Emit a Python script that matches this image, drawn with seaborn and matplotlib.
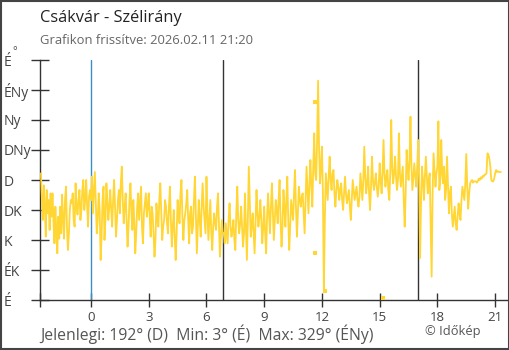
import numpy as np
import pandas as pd
import matplotlib
matplotlib.use("Agg")
import matplotlib.pyplot as plt
import seaborn as sns

# ---- data (hours relative to midnight, wind direction in degrees) ----
t_start = -2.6
t_step = 0.05
deg_pre = [190, 150, 120, 172, 140, 95, 165, 130, 150, 105, 160, 125,
           160, 118, 85, 140, 100, 70, 125, 92, 140, 100, 158, 120, 92, 150, 170, 110, 75, 98, 135, 150,
           145, 160, 120, 110, 175, 140, 128, 150, 165, 120, 135, 165, 180, 135, 150, 180, 140, 110, 155, 165]
deg_night = [
    150, 185, 130, 160, 192, 145, 100, 120, 160, 135, 60, 95, 150, 170, 90, 120, 175, 150, 120, 140,
    165, 135, 110, 150, 180, 140, 95, 120, 150, 165, 130, 175, 200, 150, 115, 140, 160, 120, 80, 110,
    150, 175, 130, 105, 150, 120, 70, 100, 140, 160, 120, 145, 170, 110, 85, 130, 145, 160, 125, 140,
    160, 125, 95, 140, 130, 100, 65, 90, 145, 120, 110, 150, 175, 130, 90, 110, 120, 150, 140, 115,
    100, 140, 170, 120, 80, 110, 135, 95, 60, 100, 150, 130, 115, 160, 180, 125, 90, 120, 130, 145,
    165, 120, 85, 130, 140, 100, 110, 150, 185, 130, 70, 110, 150, 120, 95, 140, 175, 140, 120, 100,
    185, 130, 90, 120, 150, 100, 75, 110, 130, 115, 105, 140, 160, 110, 65, 95, 120, 100, 100, 85,
]
deg_day = [
    115, 100, 85, 120, 145, 110, 95, 105, 120, 90, 75, 130, 170, 120, 100, 115, 140, 110, 80, 100,
    160, 110, 60, 120, 200, 150, 95, 110, 130, 100, 70, 120, 165, 130, 110, 125, 150, 120, 85, 110,
    140, 100, 70, 125, 160, 130, 100, 140, 175, 130, 90, 120, 150, 135, 115, 150, 180, 120, 80, 110,
    165, 140, 110, 150, 185, 120, 75, 110, 150, 135, 120, 160, 195, 140, 95, 130, 170, 150, 140, 155,
    160, 130, 100, 150, 200, 165, 130, 175, 210, 170, 140, 200, 250, 190, 180, 240, 329, 230, 175, 200,
    230, 160, 14, 120, 190, 170, 150, 185, 215, 180, 165, 190, 195, 160, 140, 165, 180, 170, 150, 165,
    175, 150, 135, 160, 185, 160, 145, 155, 165, 140, 120, 150, 180, 165, 150, 160, 170, 150, 140, 155,
    190, 170, 150, 180, 230, 185, 160, 175, 200, 160, 135, 170, 215, 180, 165, 175, 190, 170, 155, 170,
    205, 180, 160, 190, 240, 190, 170, 185, 195, 165, 150, 190, 270, 200, 175, 190, 215, 185, 165, 180,
    250, 190, 170, 185, 200, 150, 110, 160, 225, 200, 180, 210, 275, 200, 165, 185, 205, 185, 170, 200,
]
deg_evening = [
    240, 175, 63, 150, 200, 180, 150, 185, 215, 185, 160, 180, 190, 110, 35, 160, 220, 195, 170, 190,
    200, 268, 165, 180, 240, 190, 175, 200, 150, 165, 215, 170, 130, 160, 170, 130, 110, 125, 140, 115,
    105, 125, 145, 130, 120, 150, 170, 160, 150, 175, 219, 170, 137, 160, 175, 178, 180, 176, 178, 178,
    178, 176, 178, 182, 180, 184, 182, 186, 185, 188, 188, 190, 220, 218, 212, 200, 180, 178, 178, 182,
    190, 195, 192, 193, 192, 192, 192,
]
deg = deg_pre + deg_night + deg_day + deg_evening
times = [round(t_start + i * t_step, 3) for i in range(len(deg))]

# isolated readings shown as small squares
mark_t = [11.64, 11.64, 12.18, 15.18]
mark_deg = [297, 70, 14, 3]

# reference lines: midnight, sunrise, sunset
midnight = 0.0
sun_lines = [6.86, 17.0]

y_ticks = [0, 45, 90, 135, 180, 225, 270, 315, 360]
y_labels = ["É", "ÉK", "K", "DK", "D", "DNy", "Ny", "ÉNy", "É"]
x_ticks = [0, 3, 6, 9, 12, 15, 18, 21]

df = pd.DataFrame({"t": times, "deg": deg})
dm = pd.DataFrame({"t": mark_t, "deg": mark_deg})

sns.set_theme(style="white")
plt.rcParams["font.family"] = ["Open Sans", "DejaVu Sans"]

fig = plt.figure(figsize=(5.1, 3.5), dpi=100)
ax = fig.add_axes([40 / 510, 50 / 350, 469 / 510, 240 / 350])

yellow = "#FFD633"
for x in sun_lines:
    ax.axvline(x, color="#333333", lw=1.0, zorder=1)
ax.axvline(midnight, color="#3a8fcb", lw=1.0, zorder=1)

sns.lineplot(data=df, x="t", y="deg", ax=ax, color=yellow, lw=1.3,
             estimator=None, sort=False, zorder=3)
sns.scatterplot(data=dm, x="t", y="deg", ax=ax, color=yellow, marker="s",
                s=9, linewidth=0, zorder=4)

ax.set_xlim(-2.65, 21.72)
ax.set_ylim(0, 360)
ax.set_xlabel("")
ax.set_ylabel("")

ax.set_xticks(x_ticks)
ax.set_xticklabels([str(v) for v in x_ticks])
ax.set_xticks([-2.65], minor=True)
ax.set_yticks(y_ticks)
ax.set_yticklabels(y_labels)

for s in ["top", "right"]:
    ax.spines[s].set_visible(False)
for s in ["left", "bottom"]:
    ax.spines[s].set_color("#333333")
    ax.spines[s].set_linewidth(1.0)

ax.tick_params(axis="y", which="both", left=True, direction="inout", length=13,
               width=1, color="#333333", labelsize=10, labelcolor="#444444", pad=19.5)
ax.tick_params(axis="x", which="both", bottom=True, direction="inout", length=10,
               width=1, color="#333333", labelsize=9.5, labelcolor="#444444", pad=3)
for lab in ax.get_yticklabels():
    lab.set_horizontalalignment("left")

# texts
fig.text(40 / 510, 1 - 18 / 350, "Csákvár - Szélirány", fontsize=11.8,
         color="#222222", va="center", ha="left")
fig.text(40 / 510, 1 - 40 / 350, "Grafikon frissítve: 2026.02.11 21:20",
         fontsize=9.4, color="#666666", va="center", ha="left")
fig.text(12 / 510, 1 - 52 / 350, "°", fontsize=8, color="#444444",
         va="center", ha="left")
fig.text(40 / 510, 1 - 334 / 350,
         "Jelenlegi: 192° (D)  Min: 3° (É)  Max: 329° (ÉNy)",
         fontsize=11.3, color="#555555", va="center", ha="left")
fig.text(425 / 510, 1 - 331 / 350, "© Időkép", fontsize=9.3,
         color="#555555", va="center", ha="left")

# figure frame
fig.patches.append(plt.Rectangle((0.001, 0.002), 0.997, 0.996,
                                 transform=fig.transFigure, fill=False,
                                 edgecolor="#444444", lw=1.5))

fig.savefig("out.png", dpi=100)
